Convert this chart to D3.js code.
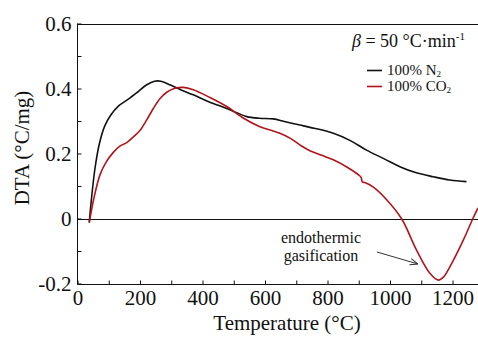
<!DOCTYPE html>
<html><head><meta charset="utf-8">
<script src="https://cdn.jsdelivr.net/npm/d3@7"></script>
<style>body{margin:0;background:#fff}svg{display:block}svg text{font-family:"Liberation Serif","Times New Roman",serif !important;fill:#111}</style>
</head><body>
<svg id="c" width="478" height="338" font-family="Liberation Serif"></svg>
<script>
const n2T = [36,45,55,68,85,105,130,160,190,220,245,265,294,330,369,420,476,510,540,580,625,660,710,742,817,870,923,980,1030,1080,1137,1190,1243];
const n2V = [-0.01,0.08,0.16,0.23,0.285,0.32,0.348,0.368,0.39,0.413,0.424,0.424,0.413,0.397,0.382,0.36,0.34,0.326,0.315,0.31,0.308,0.3,0.289,0.282,0.264,0.242,0.212,0.185,0.161,0.143,0.13,0.12,0.115];
const co2T = [36,50,70,90,113,135,156,180,198,220,241,262,284,310,337,369,420,476,530,582,620,646,680,710,742,780,817,860,900,906,910,918,945,987,1036,1083,1126,1153,1170,1190,1233,1263,1280];
const co2V = [-0.012,0.06,0.135,0.175,0.205,0.225,0.235,0.255,0.272,0.305,0.34,0.37,0.39,0.402,0.405,0.398,0.375,0.346,0.31,0.284,0.272,0.264,0.248,0.228,0.21,0.196,0.182,0.16,0.134,0.128,0.114,0.112,0.098,0.06,0,-0.095,-0.167,-0.188,-0.178,-0.147,-0.065,0,0.034];
const xTickLabels = ["0","200","400","600","800","1000","1200"];
const yTickLabels = ["-0.2","0","0.2","0.4","0.6"];
const seriesNames = ["100% N","100% CO"];
const seriesColors = ["#111111","#b3141c"];

const FONT = '"Liberation Serif","Times New Roman",serif';
const svg = d3.select("#c");
const x = d3.scaleLinear().domain([0,1280]).range([78,478]);
const y = d3.scaleLinear().domain([-0.2,0.6]).range([284,24]);

// frame
svg.append("line").attr("x1",77.5).attr("x2",478).attr("y1",24.5).attr("y2",24.5).attr("stroke","#111").attr("stroke-width",1);
// zero line
svg.append("line").attr("x1",x(0)).attr("x2",478).attr("y1",Math.round(y(0))+0.5).attr("y2",Math.round(y(0))+0.5).attr("stroke","#111").attr("stroke-width",1);

const xTicks = d3.range(0,1300,100);
const xAxis = d3.axisBottom(x).tickValues(xTicks).tickSize(-4).tickPadding(6)
  .tickFormat(d => d%200===0 ? xTickLabels[d/200] : "");
const gx = svg.append("g").attr("transform","translate(-0.5,284.5)").call(xAxis).attr("font-family",FONT).attr("font-size",21);
gx.select(".domain").attr("d","M78,0H478.5");
gx.selectAll("text").style("font-family",FONT).style("font-size","21px").attr("fill","#111");

const yTicks = d3.range(-2,7).map(i=>i/10);
const yAxis = d3.axisLeft(y).tickValues(yTicks).tickSize(-4).tickPadding(6)
  .tickFormat((d,i) => i%2===0 ? yTickLabels[i/2] : "");
const gy = svg.append("g").attr("transform","translate(77.5,-0.5)").call(yAxis).attr("font-family",FONT).attr("font-size",21);
gy.select(".domain").attr("d","M0,24H0V285");
gy.selectAll("text").style("font-family",FONT).style("font-size","21px").attr("fill","#111");
svg.selectAll(".tick line").attr("stroke","#111");
svg.selectAll(".domain").attr("stroke","#111");

// curves
const line = d3.line().x(d=>x(d[0])).y(d=>y(d[1])).curve(d3.curveCatmullRom.alpha(0.5));
svg.append("path").datum(n2T.map((t,i)=>[t,n2V[i]])).attr("d",line).attr("fill","none").attr("stroke",seriesColors[0]).attr("stroke-width",1.6);
svg.append("path").datum(co2T.map((t,i)=>[t,co2V[i]])).attr("d",line).attr("fill","none").attr("stroke",seriesColors[1]).attr("stroke-width",1.6);

// axis titles
svg.append("text").attr("x",287).attr("y",330).attr("text-anchor","middle").style("font-size","21px").text("Temperature (°C)");
svg.append("text").attr("transform","translate(29,148) rotate(-90)").attr("text-anchor","middle").style("font-size","21px").text("DTA (°C/mg)");

// heating rate
const b = svg.append("text").attr("x",352).attr("y",47).style("font-size","18px");
b.append("tspan").style("font-style","italic").text("β");
b.append("tspan").text(" = 50 °C·min");
b.append("tspan").attr("dy",-7).style("font-size","11px").text("-1");

// legend
seriesNames.forEach((nm,i)=>{
  const yy = 75 + i*16;
  svg.append("line").attr("x1",367).attr("x2",382).attr("y1",yy-4.5).attr("y2",yy-4.5).attr("stroke",seriesColors[i]).attr("stroke-width",1.6);
  const t = svg.append("text").attr("x",387).attr("y",yy).style("font-size","15px");
  t.append("tspan").text(nm);
  t.append("tspan").attr("dy",1.5).style("font-size","9px").text("2");
});

// annotation
svg.append("text").attr("x",321).attr("y",243).attr("text-anchor","middle").style("font-size","16px").text("endothermic");
svg.append("text").attr("x",321).attr("y",261).attr("text-anchor","middle").style("font-size","16px").text("gasification");
svg.append("defs").append("marker").attr("id","ah").attr("viewBox","0 0 10 10").attr("refX",10).attr("refY",5)
  .attr("markerWidth",8).attr("markerHeight",8).attr("orient","auto")
  .append("path").attr("d","M0,1L10,5L0,9").attr("fill","none").attr("stroke","#333").attr("stroke-width",1.2);
svg.append("line").attr("x1",377).attr("y1",252).attr("x2",418).attr("y2",264).attr("stroke","#333").attr("stroke-width",1).attr("marker-end","url(#ah)");
</script>
</body></html>
